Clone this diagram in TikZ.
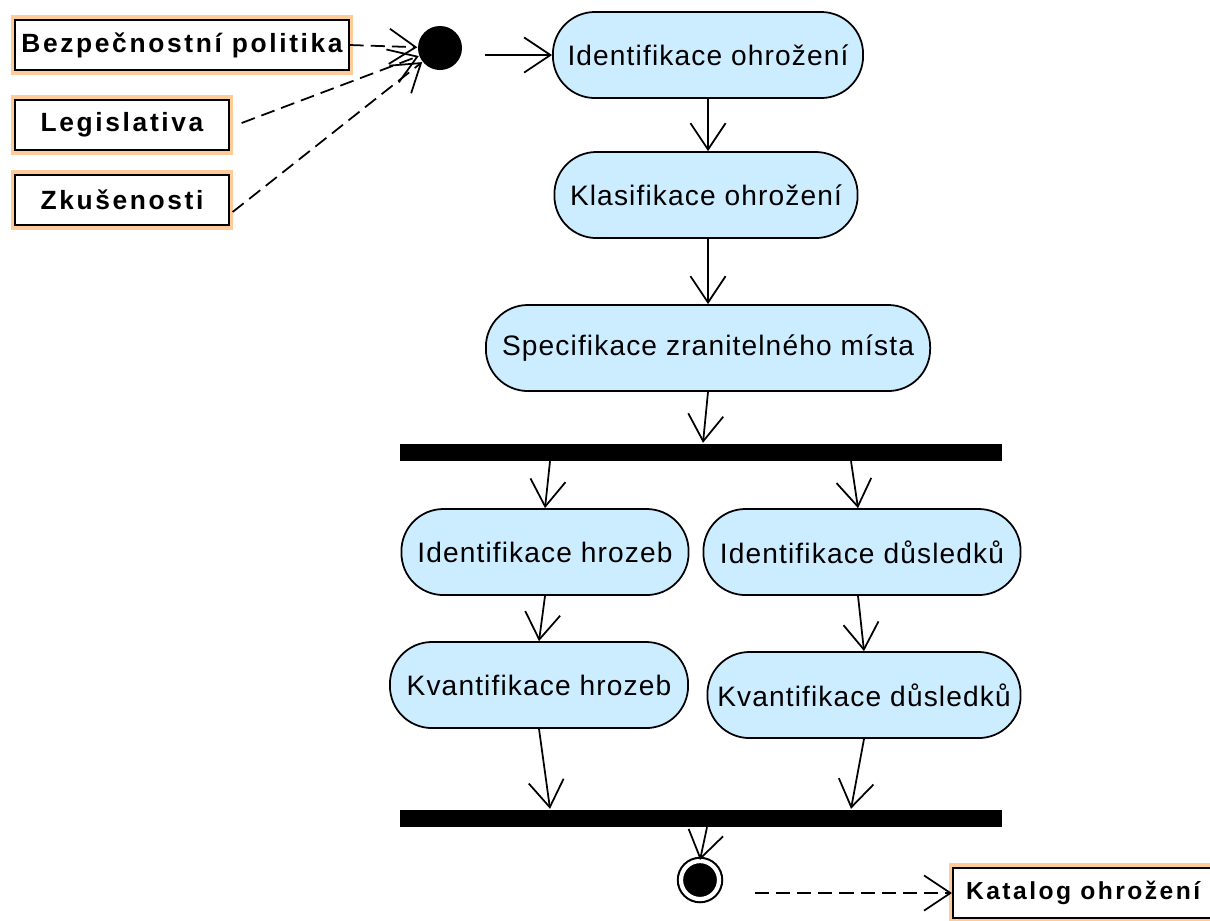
\documentclass[tikz,border=0pt]{standalone}
\usepackage{fontspec}
\setmainfont{Liberation Sans}
\newfontfamily\labelfont[LetterSpace=10]{Liberation Sans}
\newfontfamily\pillfont[LetterSpace=4]{Liberation Sans}
\usetikzlibrary{shapes.geometric, arrows.meta, positioning, calc}
\definecolor{pillblue}{RGB}{204,236,255}
\definecolor{peach}{RGB}{255,204,153}

\begin{document}
\begin{tikzpicture}[x=0.01cm, y=-0.01cm,
    activity/.style={rectangle, rounded corners=0.42cm, draw=black, fill=pillblue, line width=0.5pt,
      minimum height=0.86cm, inner sep=0pt, font=\pillfont\fontsize{8}{10}\selectfont},
    sync/.style={rectangle, fill=black, minimum width=6.02cm, minimum height=0.17cm, inner sep=0pt},
    source/.style={rectangle, draw=black, fill=white, line width=0.6pt, preaction={draw=peach, line width=2.6pt},
      minimum height=0.5cm, inner sep=0pt, font=\labelfont\bfseries\fontsize{7.5}{9}\selectfont},
    flow/.style={line width=0.5pt, -{Straight Barb[length=7.5pt, width=10pt]}},
    dep/.style={flow, dash pattern=on 4pt off 2pt}]
    \useasboundingbox (0,0) rectangle (1210,920);

    % vstupy
    \node[source, minimum width=3.33cm] (bez) at (182,45) {Bezpečnostní politika};
    \node[source, minimum width=2.13cm] (leg) at (122,125) {Legislativa};
    \node[source, minimum width=2.13cm] (zku) at (122,200) {Zkušenosti};
    \node[circle, fill=black, minimum size=0.44cm, inner sep=0pt] (init) at (440,48) {};

    % cinnosti
    \node[activity, minimum width=3.1cm]  (idohr) at (708,55)  {Identifikace ohrožení};
    \node[activity, minimum width=3.03cm] (klas)  at (706,195) {Klasifikace ohrožení};
    \node[activity, minimum width=4.44cm] (spec)  at (708,348) {Specifikace zranitelného místa};
    \node[sync] (fork) at (701,452) {};
    \node[activity, minimum width=2.87cm] (idhro) at (545,552) {Identifikace hrozeb};
    \node[activity, minimum width=3.17cm] (iddus) at (862,552) {Identifikace důsledků};
    \node[activity, minimum width=2.98cm] (kvhro) at (539,685) {Kvantifikace hrozeb};
    \node[activity, minimum width=3.13cm] (kvdus) at (864,695) {Kvantifikace důsledků};
    \node[sync] (join) at (701,818) {};
    \node[circle, draw=black, line width=0.6pt, double=white, double distance=1.2pt, fill=black,
      minimum size=0.38cm, inner sep=0pt] (final) at (700,880) {};

    % vystup
    \node[source, anchor=west, minimum width=2.6cm, font=\labelfont\bfseries\fontsize{7}{9}\selectfont]
      (kat) at (952,893) {Katalog ohrožení};

    % zavislosti
    \draw[dep] (bez.east) -- (init);
    \draw[dep] ($(leg.east)+(12,-2)$) -- (init);
    \draw[dep] ($(zku.east)+(3,12)$) -- (init);
    \draw[dep] ($(final.east |- kat.west)+(35,0)$) -- (kat.west);

    % prechody
    \draw[flow] ($(init.east |- idohr.west)+(22,0)$) -- (idohr.west);
    \draw[flow] (idohr.south) -- (idohr.south |- klas.north);
    \draw[flow] (klas.south -| idohr.south) -- (idohr.south |- spec.north);
    \draw[flow] (spec.south) -- ($(spec.south |- fork.north)+(-5,0)$);
    \draw[flow] ($(idhro.north |- fork.south)+(5,0)$) -- (idhro.north);
    \draw[flow] ($(iddus.north |- fork.south)+(-11,0)$) -- ($(iddus.north)+(-4,0)$);
    \draw[flow] (idhro.south) -- (kvhro.north);
    \draw[flow] ($(iddus.south)+(-4,0)$) -- (kvdus.north);
    \draw[flow] (kvhro.south) -- ($(kvhro.south |- join.north)+(11,0)$);
    \draw[flow] (kvdus.south) -- ($(kvdus.south |- join.north)+(-13,0)$);
    \draw[flow] ($(final.north |- join.south)+(7,0)$) -- (final.north);
\end{tikzpicture}
\end{document}
